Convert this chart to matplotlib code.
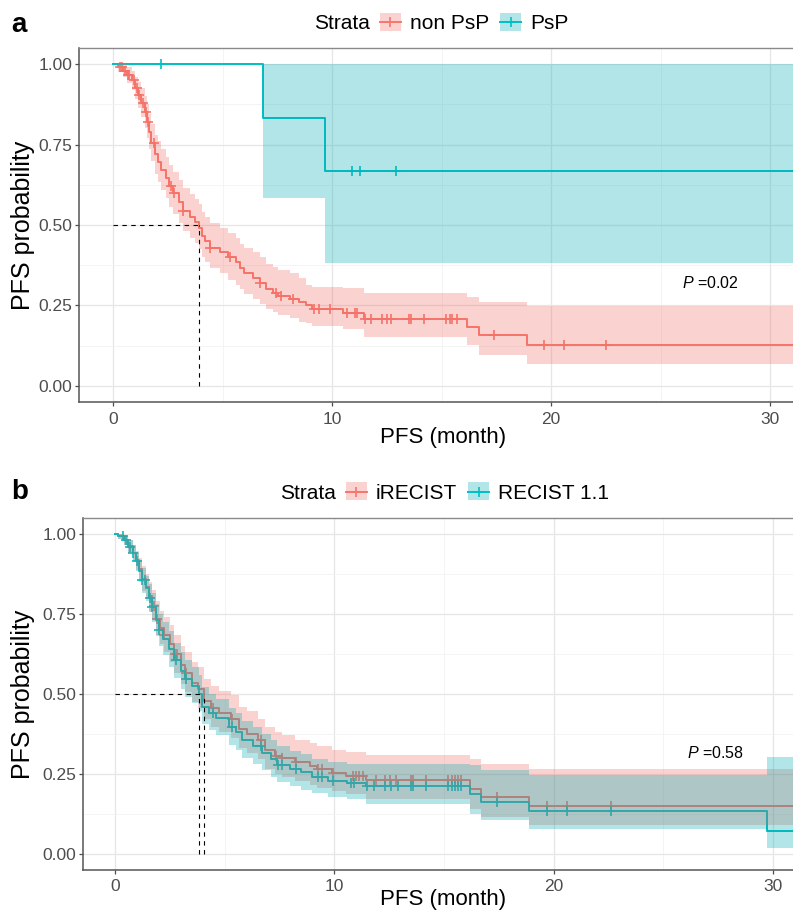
import numpy as np
import matplotlib
matplotlib.use('Agg')
import matplotlib.pyplot as plt
from matplotlib.patches import Rectangle
from matplotlib.lines import Line2D

plt.rcParams['font.family'] = ['Liberation Sans', 'DejaVu Sans']
plt.rcParams['mathtext.fontset'] = 'custom'
plt.rcParams['mathtext.it'] = 'Liberation Sans:italic'
plt.rcParams['mathtext.rm'] = 'Liberation Sans'

RED = '#F8766D'
TEAL = '#00BFC4'
RED_FILL = '#F06A60'
TEAL_FILL = '#00ABB0'

# ---------------- Panel a data ----------------
strata_a = ['non PsP', 'PsP']
pval_a = 'P =0.02'
follow_end_a = 32.5

nonpsp_t = [0, 0.25, 0.45, 0.65, 0.85, 1.0, 1.15, 1.3, 1.45, 1.55, 1.65, 1.75, 1.9, 2.05, 2.2, 2.4,
            2.55, 2.75, 3.0, 3.2, 3.5, 3.75, 3.93, 4.05, 4.2, 4.45, 4.9, 5.25, 5.6, 5.8, 6.0, 6.4,
            6.7, 7.0, 7.3, 7.55, 8.1, 8.5, 8.8, 9.1, 10.5, 11.45, 16.15, 16.7, 18.9]
nonpsp_s = [1.0, 0.99, 0.98, 0.965, 0.95, 0.925, 0.905, 0.88, 0.85, 0.82, 0.79, 0.755, 0.72, 0.695, 0.67, 0.645,
            0.62, 0.60, 0.57, 0.545, 0.525, 0.51, 0.49, 0.465, 0.45, 0.43, 0.415, 0.40, 0.385, 0.365, 0.35, 0.335,
            0.32, 0.30, 0.29, 0.28, 0.27, 0.26, 0.25, 0.24, 0.228, 0.207, 0.184, 0.158, 0.126]
nonpsp_lo = [1.0, 0.975, 0.96, 0.94, 0.92, 0.89, 0.865, 0.835, 0.80, 0.77, 0.735, 0.70, 0.66, 0.635, 0.61, 0.585,
             0.555, 0.535, 0.505, 0.48, 0.46, 0.445, 0.425, 0.40, 0.385, 0.365, 0.35, 0.33, 0.315, 0.30, 0.285, 0.27,
             0.255, 0.24, 0.23, 0.22, 0.21, 0.20, 0.195, 0.185, 0.176, 0.153, 0.128, 0.096, 0.067]
nonpsp_hi = [1.0, 1.0, 1.0, 0.99, 0.98, 0.96, 0.945, 0.925, 0.90, 0.875, 0.845, 0.815, 0.78, 0.76, 0.735, 0.71,
             0.685, 0.665, 0.64, 0.615, 0.595, 0.58, 0.565, 0.54, 0.525, 0.505, 0.49, 0.475, 0.46, 0.44, 0.43, 0.415,
             0.40, 0.38, 0.37, 0.36, 0.35, 0.335, 0.315, 0.308, 0.305, 0.288, 0.277, 0.262, 0.248]
nonpsp_cens = [0.3, 0.4, 0.55, 0.7, 0.75, 0.95, 1.1, 1.2, 1.35, 1.5, 1.6, 1.85, 2.65, 2.8, 3.2, 4.45, 5.35,
               6.7, 7.45, 7.65, 8.2, 9.2, 9.4, 9.9, 10.7, 11.05, 11.15, 11.5, 11.8, 12.3, 12.5, 12.7, 13.5,
               13.6, 14.2, 15.2, 15.4, 15.5, 15.7, 17.4, 19.7, 20.6, 22.5]

psp_t = [0, 6.85, 9.68]
psp_s = [1.0, 0.833, 0.667]
psp_lo = [1.0, 0.583, 0.381]
psp_hi = [1.0, 1.0, 1.0]
psp_cens = [2.2, 10.9, 11.3, 12.9]

# ---------------- Panel b data ----------------
strata_b = ['iRECIST', 'RECIST 1.1']
pval_b = 'P =0.58'
follow_end_b = 32.5

irecist_t = [0, 0.15, 0.4, 0.6, 0.8, 0.95, 1.1, 1.25, 1.4, 1.55, 1.7, 1.85, 2.05, 2.25, 2.5, 2.7, 3.0, 3.2,
             3.5, 3.8, 4.07, 4.4, 4.75, 5.3, 5.65, 6.0, 6.5, 6.85, 7.3, 7.6, 8.2, 8.9, 9.2, 9.9, 10.55,
             11.45, 16.18, 16.7, 18.9]
irecist_s = [1.0, 0.995, 0.98, 0.962, 0.942, 0.918, 0.89, 0.86, 0.835, 0.805, 0.775, 0.735, 0.705, 0.685, 0.655,
             0.625, 0.59, 0.565, 0.535, 0.515, 0.476, 0.455, 0.44, 0.42, 0.39, 0.375, 0.355, 0.325, 0.306, 0.299,
             0.287, 0.275, 0.263, 0.252, 0.244, 0.229, 0.203, 0.177, 0.149]
irecist_lo = [1.0, 0.985, 0.965, 0.94, 0.917, 0.888, 0.855, 0.82, 0.795, 0.76, 0.73, 0.685, 0.655, 0.63, 0.60,
              0.565, 0.53, 0.505, 0.475, 0.455, 0.42, 0.395, 0.38, 0.36, 0.33, 0.315, 0.295, 0.265, 0.248, 0.24,
              0.228, 0.215, 0.205, 0.195, 0.187, 0.17, 0.14, 0.115, 0.089]
irecist_hi = [1.0, 1.0, 0.995, 0.982, 0.967, 0.948, 0.925, 0.90, 0.875, 0.85, 0.825, 0.79, 0.76, 0.74, 0.715,
              0.685, 0.65, 0.63, 0.60, 0.585, 0.545, 0.525, 0.51, 0.495, 0.46, 0.445, 0.42, 0.395, 0.38, 0.37,
              0.356, 0.345, 0.335, 0.325, 0.318, 0.307, 0.297, 0.281, 0.266]
irecist_cens = [1.8, 1.9, 2.25, 2.75, 2.82, 3.25, 4.45, 5.35, 6.65, 7.35, 7.6, 8.25, 9.25, 9.45, 9.95, 10.85,
                11.0, 11.15, 11.3, 11.9, 12.3, 12.55, 12.8, 13.5, 13.6, 14.2, 15.2, 15.35, 15.5, 15.65, 15.8,
                17.4, 19.7, 20.6, 22.6]

recist_t = [0, 0.15, 0.4, 0.6, 0.8, 0.95, 1.1, 1.25, 1.4, 1.55, 1.7, 1.85, 2.0, 2.2, 2.45, 2.7, 3.0, 3.2,
            3.5, 3.85, 3.96, 4.3, 4.6, 5.2, 5.5, 5.8, 6.3, 6.7, 7.1, 7.4, 8.0, 8.5, 9.0, 9.7, 10.6, 11.45,
            16.18, 16.7, 18.9, 29.73]
recist_s = [1.0, 0.995, 0.98, 0.96, 0.94, 0.915, 0.885, 0.855, 0.83, 0.80, 0.77, 0.73, 0.70, 0.67, 0.64, 0.605,
            0.57, 0.545, 0.525, 0.50, 0.46, 0.44, 0.425, 0.395, 0.38, 0.355, 0.335, 0.315, 0.295, 0.278, 0.265,
            0.255, 0.24, 0.228, 0.221, 0.211, 0.1875, 0.161, 0.133, 0.07]
recist_lo = [1.0, 0.985, 0.965, 0.94, 0.915, 0.885, 0.85, 0.815, 0.79, 0.755, 0.725, 0.68, 0.65, 0.62, 0.585,
             0.55, 0.515, 0.49, 0.47, 0.445, 0.405, 0.385, 0.37, 0.34, 0.325, 0.30, 0.28, 0.26, 0.24, 0.225, 0.21,
             0.20, 0.19, 0.178, 0.172, 0.156, 0.125, 0.104, 0.078, 0.018]
recist_hi = [1.0, 1.0, 0.995, 0.98, 0.965, 0.945, 0.92, 0.895, 0.87, 0.845, 0.815, 0.78, 0.75, 0.725, 0.695,
             0.66, 0.63, 0.605, 0.585, 0.56, 0.52, 0.50, 0.485, 0.455, 0.44, 0.415, 0.395, 0.375, 0.355, 0.335,
             0.32, 0.31, 0.295, 0.285, 0.281, 0.281, 0.276, 0.26, 0.245, 0.302]
recist_cens = [0.35, 0.5, 0.7, 0.8, 1.0, 1.25, 1.35, 1.6, 1.7, 2.0, 2.8, 3.25, 4.45, 5.35, 6.65, 7.45, 7.6,
               8.25, 9.25, 9.45, 9.95, 10.75, 10.9, 11.5, 11.8, 12.3, 12.6, 12.9, 13.5, 13.6, 14.2, 15.2,
               15.35, 15.5, 15.65, 15.8, 17.4, 19.7, 20.6, 22.6]

x_major = [0, 10, 20, 30]
x_minor = [5, 15, 25]
y_major = [0.0, 0.25, 0.5, 0.75, 1.0]
y_minor = [0.125, 0.375, 0.625, 0.875]

# ---------------- Figure ----------------
W, H = 793, 919
fig = plt.figure(figsize=(W / 100, H / 100), dpi=100)


def add_axes_px(left, top, right, bottom):
    return fig.add_axes([left / W, 1 - bottom / H, (right - left) / W, (bottom - top) / H])


def style_axes(ax, xlim):
    ax.set_xlim(*xlim)
    ax.set_ylim(-0.05, 1.05)
    ax.set_xticks(x_major)
    ax.set_xticks(x_minor, minor=True)
    ax.set_yticks(y_major)
    ax.set_yticks(y_minor, minor=True)
    ax.set_yticklabels([f'{v:.2f}' for v in y_major])
    ax.grid(True, which='major', color='#E6E6E6', lw=0.9, zorder=0)
    ax.grid(True, which='minor', color='#F2F2F2', lw=0.6, zorder=0)
    ax.set_axisbelow(True)
    ax.tick_params(which='major', length=3, width=0.9, color='#4d4d4d', labelsize=12.5,
                   labelcolor='#4d4d4d')
    ax.tick_params(axis='x', which='major', pad=4)
    ax.tick_params(axis='y', which='major', pad=2)
    ax.tick_params(which='minor', length=0)
    ax.spines['right'].set_visible(False)
    ax.spines['top'].set_color('#8a8a8a')
    ax.spines['top'].set_linewidth(1.0)
    for s in ('left', 'bottom'):
        ax.spines[s].set_color('#555555')
        ax.spines[s].set_linewidth(1.1)


def draw_km(ax, t, s, lo, hi, cens, color, fill, t_end):
    tt = np.r_[t, t_end]
    ss = np.r_[s, s[-1]]
    ll = np.r_[lo, lo[-1]]
    hh = np.r_[hi, hi[-1]]
    ax.step(tt, ss, where='post', color=color, lw=1.4, zorder=3)
    idx = np.searchsorted(tt, cens, side='right') - 1
    ax.plot(cens, ss[idx], ls='none', marker='+', ms=7.5, mew=1.2, color=color, zorder=3)
    ax.fill_between(tt, ll, hh, step='post', color=fill, alpha=0.3, lw=0, zorder=4)
    ss_arr = np.asarray(s)
    below = np.nonzero(ss_arr <= 0.5)[0]
    return np.asarray(t)[below[0]] if len(below) else None


def draw_medians(ax, meds):
    meds = [m for m in meds if m is not None]
    ax.plot([0, max(meds)], [0.5, 0.5], color='black', lw=0.8, ls=(0, (4, 4)), zorder=5)
    for m in meds:
        ax.plot([m, m], [0, 0.5], color='black', lw=0.8, ls=(0, (4, 4)), zorder=5)


renderer = fig.canvas.get_renderer()


def draw_legend(x_start, y_base, labels, colors, fills):
    x = x_start
    t = fig.text(x / W, 1 - y_base / H, 'Strata', fontsize=15, va='baseline', ha='left')
    x += t.get_window_extent(renderer).width + 10
    for lab, col, fc in zip(labels, colors, fills):
        kw, kh = 21, 18
        yc = y_base - 7.5
        fig.add_artist(Rectangle((x / W, 1 - (yc + kh / 2) / H), kw / W, kh / H,
                                 transform=fig.transFigure, facecolor=fc, alpha=0.3, lw=0))
        fig.add_artist(Line2D([x / W, (x + kw) / W], [1 - yc / H] * 2, color=col, lw=1.4,
                              transform=fig.transFigure))
        fig.add_artist(Line2D([(x + kw / 2) / W], [1 - yc / H], marker='+', ms=7.5, mew=1.2,
                              color=col, transform=fig.transFigure))
        x += kw + 9
        t = fig.text(x / W, 1 - y_base / H, lab, fontsize=15, va='baseline', ha='left')
        x += t.get_window_extent(renderer).width + 11


def pval_text(ax, x, y, txt):
    p, rest = txt.split(' ', 1)
    ax.text(x, y, r'$\it{' + p + '}$ ' + rest, fontsize=11.5, va='center', ha='left', zorder=6)


# Panel a
axa = add_axes_px(79, 48, 793, 402)
style_axes(axa, (-1.553, 31.05))
m1 = draw_km(axa, nonpsp_t, nonpsp_s, nonpsp_lo, nonpsp_hi, nonpsp_cens, RED, RED_FILL, follow_end_a)
m2 = draw_km(axa, psp_t, psp_s, psp_lo, psp_hi, psp_cens, TEAL, TEAL_FILL, follow_end_a)
draw_medians(axa, [m1, m2])
pval_text(axa, 26.0, 0.32, pval_a)

# Panel b
axb = add_axes_px(83, 518, 793, 869.5)
style_axes(axb, (-1.459, 30.92))
m3 = draw_km(axb, irecist_t, irecist_s, irecist_lo, irecist_hi, irecist_cens, RED, RED_FILL, follow_end_b)
m4 = draw_km(axb, recist_t, recist_s, recist_lo, recist_hi, recist_cens, TEAL, TEAL_FILL, follow_end_b)
draw_medians(axb, [m3, m4])
pval_text(axb, 26.1, 0.315, pval_b)

# Axis titles
for yc in (225, 694):
    fig.text(23 / W, 1 - yc / H, 'PFS probability', rotation=90, fontsize=18, va='center', ha='center')
for yc in (437, 900):
    fig.text(443 / W, 1 - yc / H, 'PFS (month)', fontsize=16, va='center', ha='center')

# Panel letters
fig.text(11 / W, 1 - 32 / H, 'a', fontsize=20, fontweight='bold', va='baseline', ha='left')
fig.text(11 / W, 1 - 499 / H, 'b', fontsize=20, fontweight='bold', va='baseline', ha='left')

# Legends
draw_legend(314, 29, strata_a, [RED, TEAL], [RED_FILL, TEAL_FILL])
draw_legend(280, 499, strata_b, [RED, TEAL], [RED_FILL, TEAL_FILL])

fig.savefig('out.png', dpi=100)
